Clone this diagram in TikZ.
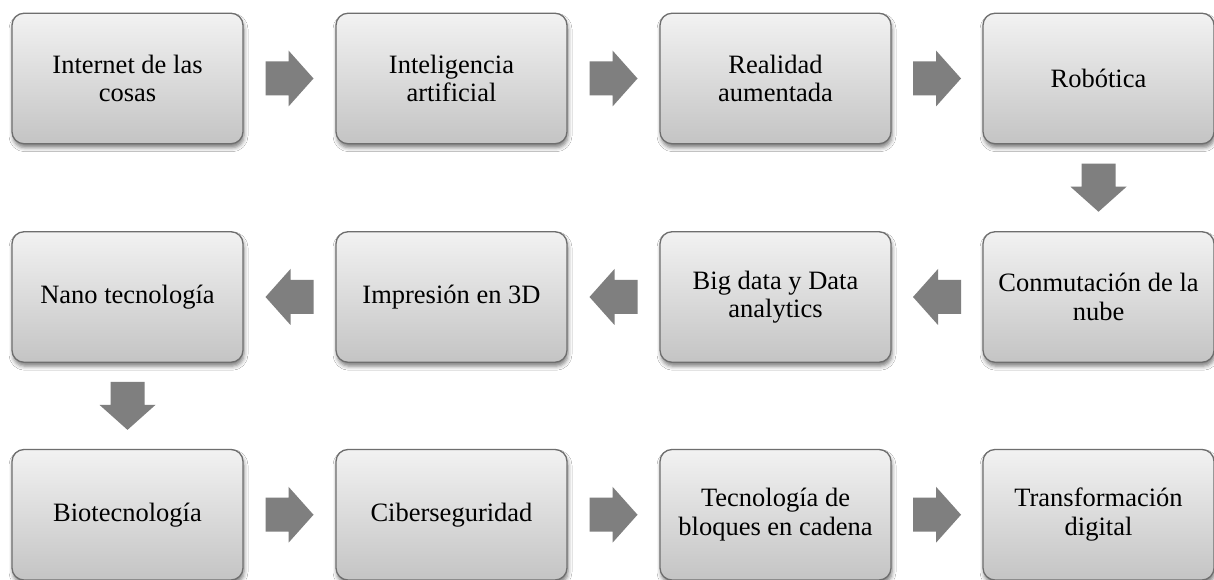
\documentclass[tikz,border=0pt]{standalone}
\usepackage{fontspec}
\setmainfont{Liberation Serif}
\usetikzlibrary{calc,shadows.blur}
\definecolor{boxtop}{HTML}{F2F2F2}
\definecolor{boxbot}{HTML}{C4C4C4}
\definecolor{boxline}{HTML}{6E6E6E}
\definecolor{arrowgray}{HTML}{7F7F7F}
\tikzset{
  stepbox/.style={draw=boxline, line width=1.3pt, rounded corners=12pt,
    top color=boxtop, bottom color=boxbot,
    minimum width=231pt, minimum height=130.5pt, inner sep=2pt,
    align=center, font=\fontsize{26.5pt}{28.5pt}\selectfont,
    blur shadow={shadow xshift=1pt, shadow yshift=-4pt, shadow blur radius=4pt, shadow opacity=50}},
  blockarrowfill/.style={fill=arrowgray}
}
\newcommand{\blockarrow}[3]{%
  \begin{scope}[shift={($(#1)!0.5!(#2)$)}, rotate=#3]
    \fill[blockarrowfill] (-24,-17) -- (-1,-17) -- (-1,-28) -- (24,0) -- (-1,28) -- (-1,17) -- (-24,17) -- cycle;
  \end{scope}}
\begin{document}
\begin{tikzpicture}[x=1pt,y=1pt]
\fill[white] (0,0) rectangle (1214,580);
\useasboundingbox (0,0) rectangle (1214,580);
% row 1
\node[stepbox] (n1) at (127.5,501.5) {Internet de las\\cosas};
\node[stepbox] (n2) at (451.5,501.5) {Inteligencia\\artificial};
\node[stepbox] (n3) at (775.5,501.5) {Realidad\\aumentada};
\node[stepbox] (n4) at (1098.5,501.5) {Robótica};
% row 2
\node[stepbox] (n5) at (1098.5,283) {Conmutación de la\\nube};
\node[stepbox] (n6) at (775.5,283) {Big data y Data\\analytics};
\node[stepbox] (n7) at (451.5,283) {Impresión en 3D};
\node[stepbox] (n8) at (127.5,283) {Nano tecnología};
% row 3
\node[stepbox] (n9) at (127.5,65.25) {Biotecnología};
\node[stepbox] (n10) at (451.5,65.25) {Ciberseguridad};
\node[stepbox] (n11) at (775.5,65.25) {Tecnología de\\bloques en cadena};
\node[stepbox] (n12) at (1098.5,65.25) {Transformación\\digital};
% arrows
\blockarrow{n1.east}{n2.west}{0}
\blockarrow{n2.east}{n3.west}{0}
\blockarrow{n3.east}{n4.west}{0}
\blockarrow{n4.south}{n5.north}{-90}
\blockarrow{n5.west}{n6.east}{180}
\blockarrow{n6.west}{n7.east}{180}
\blockarrow{n7.west}{n8.east}{180}
\blockarrow{n8.south}{n9.north}{-90}
\blockarrow{n9.east}{n10.west}{0}
\blockarrow{n10.east}{n11.west}{0}
\blockarrow{n11.east}{n12.west}{0}
\end{tikzpicture}
\end{document}
